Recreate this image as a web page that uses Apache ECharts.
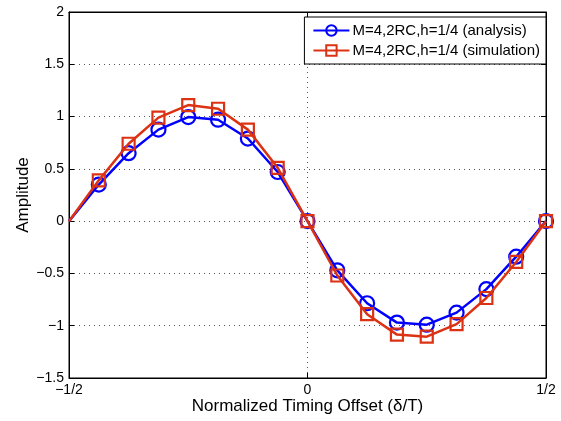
<!DOCTYPE html>
<html>
<head>
<meta charset="utf-8">
<script src="https://cdn.jsdelivr.net/npm/echarts@6/dist/echarts.min.js"></script>
<style>html,body{margin:0;padding:0;background:#fff}#c{width:561px;height:421px}</style>
</head>
<body>
<div id="c"></div>
<script>
// Data
var xValues = [-0.5, -0.4375, -0.375, -0.3125, -0.25, -0.1875, -0.125, -0.0625, 0,
               0.0625, 0.125, 0.1875, 0.25, 0.3125, 0.375, 0.4375, 0.5];
var analysis = [0, 0.35, 0.65, 0.875, 0.995, 0.97, 0.79, 0.47, 0,
                -0.47, -0.785, -0.97, -0.99, -0.875, -0.65, -0.34, 0];
var simulation = [0, 0.39, 0.74, 0.99, 1.11, 1.075, 0.875, 0.51, 0,
                  -0.52, -0.89, -1.085, -1.105, -0.985, -0.735, -0.39, 0];
var seriesNames = ['M=4,2RC,h=1/4 (analysis)', 'M=4,2RC,h=1/4 (simulation)'];
var xTickValues = [-0.5, 0, 0.5];
var xTickLabels = ['\u22121/2', '0', '1/2'];

function build(vals) {
  return vals.map(function (v, i) {
    var item = { value: [xValues[i], v] };
    if (i === 0) item.symbol = 'none';
    return item;
  });
}

var FONT = 'Liberation Sans, Arial, sans-serif';
var chart = echarts.init(document.getElementById('c'), null, { renderer: 'canvas' });

var blue = '#0000ff';
var red = '#dc3214';

chart.setOption({
  animation: false,
  backgroundColor: '#fff',
  textStyle: { fontFamily: FONT },
  grid: { left: 69, right: 15, top: 12, bottom: 43, show: true, borderColor: '#000', borderWidth: 1,
          containLabel: false, outerBoundsMode: 'none' },
  legend: {
    right: 15, top: 17, orient: 'vertical',
    backgroundColor: '#fff', borderColor: '#000', borderWidth: 1,
    padding: [6, 6, 6, 8], itemGap: 5, itemWidth: 36, itemHeight: 13,
    textStyle: { fontSize: 15, color: '#000', fontFamily: FONT, padding: [0, 0, 0, -2] },
    data: seriesNames
  },
  xAxis: [{
    type: 'value', min: -0.5, max: 0.5, interval: 0.5,
    name: 'Normalized Timing Offset (\u03b4/T)', nameLocation: 'middle', nameGap: 20,
    nameMoveOverlap: false,
    nameTextStyle: { fontSize: 17, color: '#000', fontFamily: FONT },
    axisLine: { show: true, onZero: false, lineStyle: { color: '#000', width: 1 } },
    axisTick: { show: true, inside: true, length: 5, lineStyle: { color: '#000' } },
    axisLabel: {
      color: '#000', fontSize: 14, margin: 5, fontFamily: FONT,
      formatter: function (v) {
        var idx = xTickValues.indexOf(Math.round(v * 1000) / 1000);
        return idx >= 0 ? xTickLabels[idx] : '';
      }
    },
    splitLine: { show: true, lineStyle: { color: '#555', type: [1, 4], width: 1 } }
  }, {
    type: 'value', position: 'top', min: -0.5, max: 0.5, interval: 0.5,
    axisLine: { show: true, onZero: false, lineStyle: { color: '#000' } },
    axisTick: { show: true, inside: true, length: 5, lineStyle: { color: '#000' } },
    axisLabel: { show: false }, splitLine: { show: false }
  }],
  yAxis: [{
    type: 'value', min: -1.5, max: 2, interval: 0.5,
    name: 'Amplitude', nameLocation: 'middle', nameGap: 37,
    nameMoveOverlap: false,
    nameTextStyle: { fontSize: 17, color: '#000', fontFamily: FONT },
    axisLine: { show: true, onZero: false, lineStyle: { color: '#000', width: 1 } },
    axisTick: { show: true, inside: true, length: 5, lineStyle: { color: '#000' } },
    axisLabel: {
      color: '#000', fontSize: 14, margin: 5, fontFamily: FONT,
      formatter: function (v) { return String(v).replace('-', '\u2212'); }
    },
    splitLine: { show: true, lineStyle: { color: '#555', type: [1, 4], width: 1 } }
  }, {
    type: 'value', position: 'right', min: -1.5, max: 2, interval: 0.5,
    axisLine: { show: true, onZero: false, lineStyle: { color: '#000' } },
    axisTick: { show: true, inside: true, length: 5, lineStyle: { color: '#000' } },
    axisLabel: { show: false }, splitLine: { show: false }
  }],
  series: [{
    name: seriesNames[0], type: 'line', data: build(analysis),
    symbol: 'circle', symbolSize: 14,
    lineStyle: { color: blue, width: 2.5 },
    itemStyle: { color: 'rgba(255,255,255,0)', borderColor: blue, borderWidth: 2.2 },
    z: 2
  }, {
    name: seriesNames[1], type: 'line', data: build(simulation),
    symbol: 'rect', symbolSize: 12,
    lineStyle: { color: red, width: 2.5 },
    itemStyle: { color: 'rgba(255,255,255,0)', borderColor: red, borderWidth: 2.2 },
    z: 3
  }]
});
</script>
</body>
</html>
